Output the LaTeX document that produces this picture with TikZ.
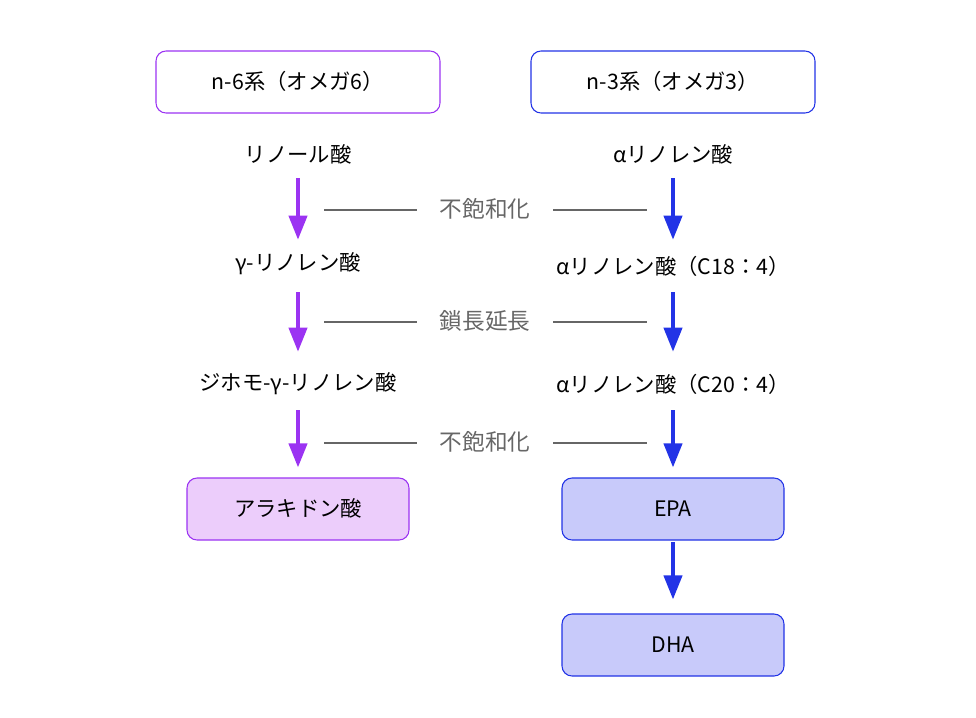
\documentclass[tikz,border=0pt]{standalone}
\usepackage{fontspec}
\setmainfont{Noto Sans CJK JP}
\usepackage{xcolor}
\usetikzlibrary{positioning,arrows.meta}
\definecolor{sixline}{HTML}{9B33F2}
\definecolor{sixfill}{HTML}{ECCDFB}
\definecolor{threeline}{HTML}{2233E6}
\definecolor{threefill}{HTML}{C8CAFA}
\definecolor{stepgray}{HTML}{666666}

\begin{document}
\begin{tikzpicture}[x=0.75pt,y=-0.75pt,font=\fontsize{16}{18}\selectfont]
	\tikzset{every node/.style={inner sep=0pt,text height=13.5pt,text depth=2pt}}
	\tikzset{head box/.style={draw,rounded corners=7.5pt,line width=0.8pt,minimum width=213pt,minimum height=46.5pt}}
	\tikzset{end box/.style={draw,rounded corners=7.5pt,line width=0.8pt,minimum width=166.5pt,minimum height=46.5pt}}
	\tikzset{flow/.style={line width=3pt,-{Triangle[length=18pt,width=13.5pt]}}}
	\tikzset{pace line/.style={stepgray,line width=1.5pt}}
	\tikzset{pace label/.style={text=stepgray,font=\fontsize{17}{19}\selectfont}}

\useasboundingbox (0,0) rectangle (976,718);

% headers
\node[head box,draw=sixline] (six) at (298,82) {n-6系（オメガ6）};
\node[head box,draw=threeline] (three) at (673,82) {n-3系（オメガ3）};

% n-6 chain
\node (la) at (298,155) {リノール酸};
\node (gla) at (298,263) {γ-リノレン酸};
\node (dgla) at (298,383) {ジホモ-γ-リノレン酸};
\node[end box,draw=sixline,fill=sixfill] (aa) at (298,509) {アラキドン酸};

% n-3 chain
\node (ala) at (673,155) {αリノレン酸};
\node (sda) at (673,267) {αリノレン酸（C18：4）};
\node (eta) at (673,385) {αリノレン酸（C20：4）};
\node[end box,draw=threeline,fill=threefill] (epa) at (673,509) {EPA};
\node[end box,draw=threeline,fill=threefill] (dha) at (673,645) {DHA};

% steps
\node[pace label] (desat1) at (485,210) {不飽和化};
\node[pace label] (elong) at (485,322) {鎖長延長};
\node[pace label] (desat2) at (485,443) {不飽和化};

\draw[flow,sixline,shorten <=9.5pt,shorten >=9.5pt] (la) -- (gla);
\draw[flow,sixline,shorten <=14pt,shorten >=15.5pt] (gla) -- (dgla);
\draw[flow,sixline,shorten <=12.5pt,shorten >=7.5pt] (dgla) -- (aa);
\draw[flow,threeline,shorten <=9.5pt,shorten >=12.5pt] (ala) -- (sda);
\draw[flow,threeline,shorten <=11pt,shorten >=17pt] (sda) -- (eta);
\draw[flow,threeline,shorten <=11pt,shorten >=7.5pt] (eta) -- (epa);
\draw[flow,threeline,shorten <=1pt,shorten >=10.5pt] (epa) -- (dha);

\foreach \p in {desat1,elong,desat2}{
	\draw[pace line,shorten <=17pt,shorten >=19.5pt] (\p.west) -- (la |- \p);
	\draw[pace line,shorten <=17pt,shorten >=19.5pt] (\p.east) -- (ala |- \p);
}
\end{tikzpicture}
\end{document}
